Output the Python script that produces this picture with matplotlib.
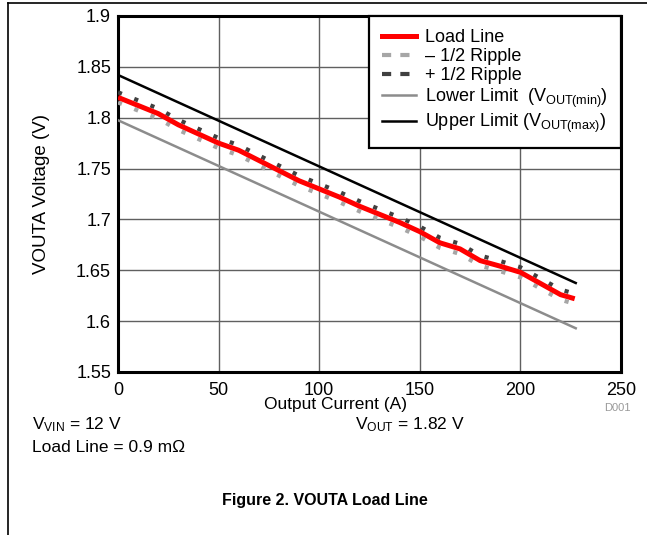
import numpy as np
import matplotlib.pyplot as plt
from matplotlib.lines import Line2D

# 负载线数据
current = [0, 10, 20, 30, 40, 50, 60, 70, 80, 90, 100, 110, 120, 130,
           140, 150, 160, 170, 180, 190, 200, 210, 220, 227]
load_line = [1.820, 1.812, 1.804, 1.793, 1.784, 1.775, 1.768, 1.758, 1.748,
             1.738, 1.730, 1.722, 1.713, 1.705, 1.697, 1.688, 1.677, 1.671,
             1.6595, 1.654, 1.648, 1.637, 1.626, 1.622]
ripple_half = 0.005
limit_current = [0, 227.5]
lower_limit = [1.7975, 1.593]
upper_limit = [1.842, 1.6375]

x_ticks = [0, 50, 100, 150, 200, 250]
y_ticks = [1.55, 1.6, 1.65, 1.7, 1.75, 1.8, 1.85, 1.9]

plt.rcParams['font.family'] = ['Liberation Sans', 'DejaVu Sans']
plt.rcParams['mathtext.default'] = 'regular'

fig = plt.figure(figsize=(6.47, 5.35), dpi=100)
ax = fig.add_axes([0.1824, 0.3047, 0.7774, 0.6654])

cur = np.array(current)
ll = np.array(load_line)

ax.plot(cur, ll, color='#ff0000', lw=3.6, zorder=5, solid_capstyle='butt')
ax.plot(cur, ll - ripple_half, color='#a6a6a6', lw=3.0, zorder=4,
        linestyle=(0, (1, 3.2)), dash_capstyle='butt')
ax.plot(cur, ll + ripple_half, color='#404040', lw=3.0, zorder=4,
        linestyle=(0, (1, 3.2)), dash_capstyle='butt')
ax.plot(limit_current, lower_limit, color='#8c8c8c', lw=1.8, zorder=3)
ax.plot(limit_current, upper_limit, color='black', lw=1.8, zorder=3)

ax.set_xlim(0, 250)
ax.set_ylim(1.55, 1.9)
ax.set_xticks(x_ticks)
ax.set_yticks(y_ticks)
ax.set_yticklabels([f'{v:g}' for v in y_ticks])
ax.tick_params(length=0, labelsize=13)
ax.tick_params(axis='x', pad=7)
ax.tick_params(axis='y', pad=5)
ax.grid(True, color='#606060', lw=1.0, zorder=0)
for s in ax.spines.values():
    s.set_linewidth(2.2)
    s.set_color('black')
ax.set_xlabel('Output Current (A)', fontsize=12.5)
ax.xaxis.set_label_coords((335 - 118) / 503, -(397 - 372) / 356)
ax.set_ylabel('VOUTA Voltage (V)', fontsize=13.5, labelpad=19)

handles = [
    Line2D([], [], color='#ff0000', lw=3.6),
    Line2D([], [], color='#a6a6a6', lw=3.0, linestyle=(0, (2.2, 2.2))),
    Line2D([], [], color='#404040', lw=3.0, linestyle=(0, (2.2, 2.2))),
    Line2D([], [], color='#8c8c8c', lw=1.8),
    Line2D([], [], color='black', lw=1.8),
]
labels = ['Load Line', '\u2013 1/2 Ripple', '+ 1/2 Ripple',
          'Lower Limit  (V$_{OUT(min)}$)', 'Upper Limit (V$_{OUT(max)}$)']
leg = ax.legend(handles, labels, loc='upper right', borderaxespad=0,
                fontsize=13, fancybox=False, framealpha=1, edgecolor='black',
                handlelength=1.9, handletextpad=0.5, labelspacing=0.12,
                borderpad=0.72)
leg.get_frame().set_linewidth(1.6)
leg.set_zorder(10)

# 页面边框
fig.add_artist(Line2D([8/647, 1], [1 - 3/535, 1 - 3/535], color='black', lw=1.2))
fig.add_artist(Line2D([8/647, 8/647], [0, 1 - 3/535], color='black', lw=1.2))

fig.text(604/647, 1 - 408/535, 'D001', fontsize=8, color='#999999', va='center')
fig.text(32/647, 1 - 425/535, 'V$_{VIN}$ = 12 V', fontsize=12.5, va='center')
fig.text(355/647, 1 - 425/535, 'V$_{OUT}$ = 1.82 V', fontsize=12.5, va='center')
fig.text(32/647, 1 - 448/535, 'Load Line = 0.9 m\u03a9', fontsize=12.5, va='center')
fig.text(325/647, 1 - 500/535, 'Figure 2. VOUTA Load Line', fontsize=11.5,
         fontweight='bold', ha='center', va='center')

fig.savefig('out.png', dpi=100)
